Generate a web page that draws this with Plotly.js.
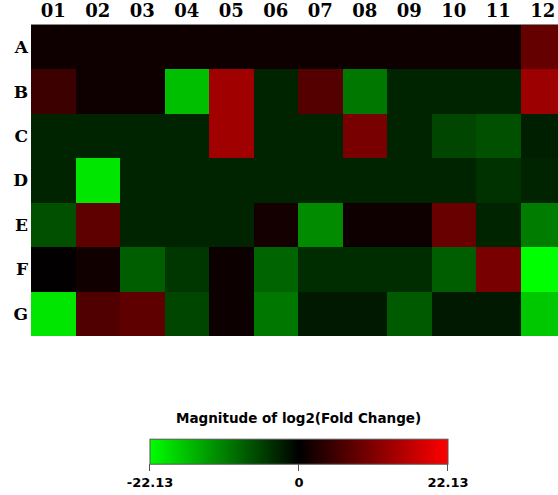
<!DOCTYPE html>
<html>
<head>
<meta charset="utf-8">
<script src="https://cdn.plot.ly/plotly-3.0.1.min.js"></script>
<style>html,body{margin:0;padding:0;background:#fff;}#chart{width:558px;height:495px;}</style>
</head>
<body>
<div id="chart"></div>
<script>
const columns = ['01','02','03','04','05','06','07','08','09','10','11','12'];
const rows = ['A','B','C','D','E','F','G'];
const rowA = [1.2, 1.2, 1.2, 1.2, 1.2, 1.2, 1.2, 1.2, 1.2, 1.2, 1.2, 8.7];
const rowB = [5.2, 1.2, 1.2, -16.5, 13.9, -3.0, 7.4, -10.4, -3.0, -3.0, -3.0, 13.5];
const rowC = [-3.0, -3.0, -3.0, -3.0, 13.9, -3.0, -3.0, 10.4, -3.0, -6.1, -6.9, -2.7];
const rowD = [-3.0, -20.0, -3.0, -3.0, -3.0, -3.0, -3.0, -3.0, -3.0, -3.0, -4.3, -3.0];
const rowE = [-6.9, 8.2, -3.0, -3.0, -3.0, 1.7, -12.1, 1.2, 1.2, 9.1, -3.0, -10.8];
const rowF = [0.2, 1.5, -8.2, -4.8, 1.0, -8.7, -3.9, -3.9, -3.9, -8.2, 10.4, -22.13];
const rowG = [-20.0, 6.9, 8.2, -6.1, 1.0, -10.4, -2.2, -2.2, -7.8, -2.2, -2.2, -17.4];
const zLimit = 22.13;
const colorbarTitle = 'Magnitude of log2(Fold Change)';
const colorbarTicks = [-22.13, 0, 22.13];
const colorbarTickText = ['-22.13', '0', '22.13'];

const z = [rowA, rowB, rowC, rowD, rowE, rowF, rowG];

const trace = {
  type: 'heatmap',
  x: columns,
  y: rows,
  z: z,
  zmin: -zLimit,
  zmax: zLimit,
  colorscale: [[0, 'rgb(0,255,0)'], [0.5, 'rgb(0,0,0)'], [1, 'rgb(255,0,0)']],
  hoverinfo: 'x+y+z',
  colorbar: {
    orientation: 'h',
    x: 0.5085,
    xanchor: 'center',
    y: -0.415,
    yanchor: 'middle',
    len: 318,
    lenmode: 'pixels',
    thickness: 25,
    outlinecolor: '#555',
    outlinewidth: 1,
    ticks: 'outside',
    ticklen: 7,
    tickcolor: '#555',
    tickvals: colorbarTicks,
    ticktext: colorbarTickText,
    tickfont: {family: 'DejaVu Sans', size: 13, color: '#000', weight: 'bold'}
  }
};

const layout = {
  width: 558,
  height: 495,
  margin: {l: 31, r: 0, t: 25, b: 159, autoexpand: false},
  paper_bgcolor: '#fff',
  plot_bgcolor: '#fff',
  xaxis: {
    side: 'top',
    type: 'category',
    range: [-0.5, 11.34],
    showgrid: false,
    zeroline: false,
    showline: true,
    linecolor: '#888',
    linewidth: 1,
    ticks: '',
    ticklen: 0,
    automargin: false,
    tickfont: {family: 'DejaVu Serif', size: 18, color: '#000', weight: 'bold'},
    fixedrange: true
  },
  yaxis: {
    type: 'category',
    autorange: 'reversed',
    showgrid: false,
    zeroline: false,
    ticks: '',
    automargin: false,
    ticklabelstandoff: 2,
    tickfont: {family: 'DejaVu Serif', size: 17, color: '#000', weight: 'bold'},
    fixedrange: true
  },
  annotations: [{
    text: colorbarTitle,
    xref: 'paper', yref: 'paper',
    x: 0.5085, y: (336 - 418) / 311,
    xanchor: 'center', yanchor: 'middle',
    showarrow: false,
    font: {family: 'DejaVu Sans', size: 13.5, color: '#000', weight: 'bold'}
  }]
};

Plotly.newPlot('chart', [trace], layout, {displayModeBar: false, staticPlot: true});
</script>
</body>
</html>
